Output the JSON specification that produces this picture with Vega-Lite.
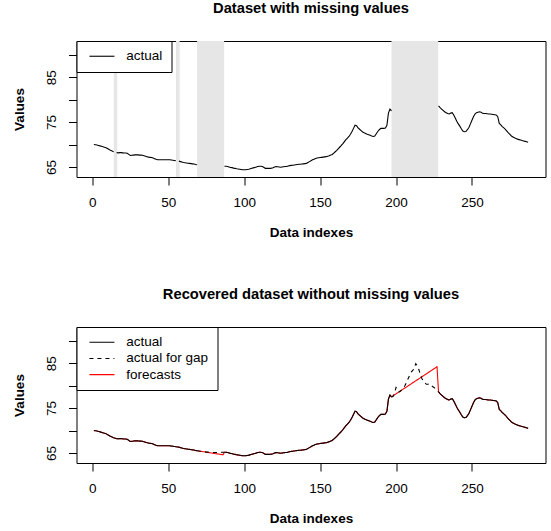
{
"$schema": "https://vega.github.io/schema/vega-lite/v6.json",
"autosize": {"type": "pad"},
"padding": {"left": 11.5, "top": 0, "right": 0, "bottom": 0},
"background": "white",
"config": {
 "font": "Liberation Sans",
 "view": {"stroke": "black", "strokeWidth": 1},
 "axis": {"domain": false, "grid": false, "ticks": true, "tickColor": "black", "tickWidth": 1, "tickSize": 8, "labelFont": "Liberation Sans", "labelFontSize": 13.5, "labelColor": "black", "titleFont": "Liberation Sans", "titleFontSize": 13.5, "titleFontWeight": "bold", "titleColor": "black", "labelFlush": false, "labelOverlap": false},
 "axisX": {"labelPadding": 10, "titlePadding": 17, "labelAngle": 0},
 "axisY": {"labelAngle": -90, "labelPadding": 10, "titlePadding": 18},
 "title": {"fontSize": 14.7, "fontWeight": "bold", "color": "black", "anchor": "middle", "font": "Liberation Sans"},
 "legend": {"orient": "top-left", "offset": 0, "padding": 8.5, "strokeColor": "black", "fillColor": "white", "symbolType": "M-3.125,0H3.125", "symbolSize": 64, "symbolStrokeWidth": 1.1, "symbolOffset": 10.2, "labelOffset": 17.5, "labelFontSize": 13.5, "labelColor": "black", "labelFont": "Liberation Sans", "rowPadding": 1.2, "cornerRadius": 0}
},
"datasets": {
 "bands": [{"b0":14.1,"b1":16.4},{"b0":55.1,"b1":57.5},{"b0":69,"b1":86.8},{"b0":197,"b1":227.8}],
 "main": [
{"i":1,"a":70,"f":70},{"i":2,"a":69.95,"f":69.95},{"i":3,"a":69.9,"f":69.9},{"i":4,"a":69.8,"f":69.8},{"i":5,"a":69.7,"f":69.7},
{"i":6,"a":69.6,"f":69.6},{"i":7,"a":69.5,"f":69.5},{"i":8,"a":69.4,"f":69.4},{"i":9,"a":69.3,"f":69.3},{"i":10,"a":69.1,"f":69.1},
{"i":11,"a":68.9,"f":68.9},{"i":12,"a":68.7,"f":68.7},{"i":13,"a":68.55,"f":68.55},{"i":14,"a":68.4,"f":68.4,"g":68.4},{"i":15,"a":null,"f":68.3,"g":68.3},
{"i":16,"a":68.2,"f":68.2,"g":68.2},{"i":17,"a":68.15,"f":68.15},{"i":18,"a":68.2,"f":68.2},{"i":19,"a":68.2,"f":68.2},{"i":20,"a":68.15,"f":68.15},
{"i":21,"a":68.1,"f":68.1},{"i":22,"a":68.1,"f":68.1},{"i":23,"a":68.05,"f":68.05},{"i":24,"a":67.8,"f":67.8},{"i":25,"a":67.55,"f":67.55},
{"i":26,"a":67.6,"f":67.6},{"i":27,"a":67.65,"f":67.65},{"i":28,"a":67.7,"f":67.7},{"i":29,"a":67.7,"f":67.7},{"i":30,"a":67.7,"f":67.7},
{"i":31,"a":67.65,"f":67.65},{"i":32,"a":67.65,"f":67.65},{"i":33,"a":67.6,"f":67.6},{"i":34,"a":67.5,"f":67.5},{"i":35,"a":67.4,"f":67.4},
{"i":36,"a":67.3,"f":67.3},{"i":37,"a":67.2,"f":67.2},{"i":38,"a":67.15,"f":67.15},{"i":39,"a":67.1,"f":67.1},{"i":40,"a":67,"f":67},
{"i":41,"a":66.85,"f":66.85},{"i":42,"a":66.7,"f":66.7},{"i":43,"a":66.6,"f":66.6},{"i":44,"a":66.6,"f":66.6},{"i":45,"a":66.6,"f":66.6},
{"i":46,"a":66.6,"f":66.6},{"i":47,"a":66.6,"f":66.6},{"i":48,"a":66.6,"f":66.6},{"i":49,"a":66.6,"f":66.6},{"i":50,"a":66.6,"f":66.6},
{"i":51,"a":66.6,"f":66.6},{"i":52,"a":66.55,"f":66.55},{"i":53,"a":66.5,"f":66.5},{"i":54,"a":66.45,"f":66.45},{"i":55,"a":66.4,"f":66.4,"g":66.4},
{"i":56,"a":null,"f":66.35,"g":66.35},{"i":57,"a":66.3,"f":66.3,"g":66.3},{"i":58,"a":66.2,"f":66.2},{"i":59,"a":66.1,"f":66.1},{"i":60,"a":66,"f":66},
{"i":61,"a":65.95,"f":65.95},{"i":62,"a":65.9,"f":65.9},{"i":63,"a":65.85,"f":65.85},{"i":64,"a":65.8,"f":65.8},{"i":65,"a":65.75,"f":65.75},
{"i":66,"a":65.7,"f":65.7},{"i":67,"a":65.65,"f":65.65},{"i":68,"a":65.55,"f":65.55},{"i":69,"a":65.5,"f":65.5,"g":65.5},{"i":70,"a":null,"f":65.45,"g":65.45},
{"i":71,"a":null,"f":65.39,"g":65.4},{"i":72,"a":null,"f":65.34,"g":65.35},{"i":73,"a":null,"f":65.29,"g":65.3},{"i":74,"a":null,"f":65.24,"g":65.25},{"i":75,"a":null,"f":65.18,"g":65.2},
{"i":76,"a":null,"f":65.13,"g":65.2},{"i":77,"a":null,"f":65.08,"g":65.15},{"i":78,"a":null,"f":65.02,"g":65.15},{"i":79,"a":null,"f":64.97,"g":65.1},{"i":80,"a":null,"f":64.92,"g":65.1},
{"i":81,"a":null,"f":64.86,"g":65.1},{"i":82,"a":null,"f":64.81,"g":65.1},{"i":83,"a":null,"f":64.76,"g":65.1},{"i":84,"a":null,"f":64.71,"g":65.15},{"i":85,"a":null,"f":64.65,"g":65.15},
{"i":86,"a":null,"f":64.6,"g":65.15},{"i":87,"a":65.15,"f":65.15,"g":65.15},{"i":88,"a":65.15,"f":65.15},{"i":89,"a":65.1,"f":65.1},{"i":90,"a":65,"f":65},
{"i":91,"a":64.9,"f":64.9},{"i":92,"a":64.85,"f":64.85},{"i":93,"a":64.75,"f":64.75},{"i":94,"a":64.7,"f":64.7},{"i":95,"a":64.6,"f":64.6},
{"i":96,"a":64.55,"f":64.55},{"i":97,"a":64.5,"f":64.5},{"i":98,"a":64.45,"f":64.45},{"i":99,"a":64.4,"f":64.4},{"i":100,"a":64.4,"f":64.4},
{"i":101,"a":64.4,"f":64.4},{"i":102,"a":64.45,"f":64.45},{"i":103,"a":64.5,"f":64.5},{"i":104,"a":64.6,"f":64.6},{"i":105,"a":64.7,"f":64.7},
{"i":106,"a":64.8,"f":64.8},{"i":107,"a":64.9,"f":64.9},{"i":108,"a":65,"f":65},{"i":109,"a":65.1,"f":65.1},{"i":110,"a":65.15,"f":65.15},
{"i":111,"a":65.15,"f":65.15},{"i":112,"a":65.1,"f":65.1},{"i":113,"a":64.9,"f":64.9},{"i":114,"a":64.7,"f":64.7},{"i":115,"a":64.7,"f":64.7},
{"i":116,"a":64.7,"f":64.7},{"i":117,"a":64.7,"f":64.7},{"i":118,"a":64.75,"f":64.75},{"i":119,"a":64.85,"f":64.85},{"i":120,"a":65,"f":65},
{"i":121,"a":65.1,"f":65.1},{"i":122,"a":65.05,"f":65.05},{"i":123,"a":65,"f":65},{"i":124,"a":64.95,"f":64.95},{"i":125,"a":65,"f":65},
{"i":126,"a":65.05,"f":65.05},{"i":127,"a":65.1,"f":65.1},{"i":128,"a":65.1,"f":65.1},{"i":129,"a":65.2,"f":65.2},{"i":130,"a":65.3,"f":65.3},
{"i":131,"a":65.35,"f":65.35},{"i":132,"a":65.4,"f":65.4},{"i":133,"a":65.45,"f":65.45},{"i":134,"a":65.5,"f":65.5},{"i":135,"a":65.55,"f":65.55},
{"i":136,"a":65.6,"f":65.6},{"i":137,"a":65.6,"f":65.6},{"i":138,"a":65.65,"f":65.65},{"i":139,"a":65.7,"f":65.7},{"i":140,"a":65.75,"f":65.75},
{"i":141,"a":65.8,"f":65.8},{"i":142,"a":66,"f":66},{"i":143,"a":66.2,"f":66.2},{"i":144,"a":66.4,"f":66.4},{"i":145,"a":66.6,"f":66.6},
{"i":146,"a":66.75,"f":66.75},{"i":147,"a":66.9,"f":66.9},{"i":148,"a":67,"f":67},{"i":149,"a":67.05,"f":67.05},{"i":150,"a":67.1,"f":67.1},
{"i":151,"a":67.15,"f":67.15},{"i":152,"a":67.2,"f":67.2},{"i":153,"a":67.25,"f":67.25},{"i":154,"a":67.3,"f":67.3},{"i":155,"a":67.4,"f":67.4},
{"i":156,"a":67.5,"f":67.5},{"i":157,"a":67.65,"f":67.65},{"i":158,"a":67.8,"f":67.8},{"i":159,"a":68.1,"f":68.1},{"i":160,"a":68.4,"f":68.4},
{"i":161,"a":68.7,"f":68.7},{"i":162,"a":69.1,"f":69.1},{"i":163,"a":69.45,"f":69.45},{"i":164,"a":69.8,"f":69.8},{"i":165,"a":70.2,"f":70.2},
{"i":166,"a":70.65,"f":70.65},{"i":167,"a":71.1,"f":71.1},{"i":168,"a":71.45,"f":71.45},{"i":169,"a":71.8,"f":71.8},{"i":170,"a":72.3,"f":72.3},
{"i":171,"a":72.9,"f":72.9},{"i":172,"a":73.6,"f":73.6},{"i":173,"a":74.3,"f":74.3},{"i":174,"a":74.2,"f":74.2},{"i":175,"a":73.7,"f":73.7},
{"i":176,"a":73.4,"f":73.4},{"i":177,"a":73.1,"f":73.1},{"i":178,"a":72.8,"f":72.8},{"i":179,"a":72.6,"f":72.6},{"i":180,"a":72.45,"f":72.45},
{"i":181,"a":72.3,"f":72.3},{"i":182,"a":72.2,"f":72.2},{"i":183,"a":72.05,"f":72.05},{"i":184,"a":71.9,"f":71.9},{"i":185,"a":71.8,"f":71.8},
{"i":186,"a":71.9,"f":71.9},{"i":187,"a":72.4,"f":72.4},{"i":188,"a":72.9,"f":72.9},{"i":189,"a":73.3,"f":73.3},{"i":190,"a":73.6,"f":73.6},
{"i":191,"a":73.6,"f":73.6},{"i":192,"a":73.6,"f":73.6},{"i":193,"a":73.7,"f":73.7},{"i":194,"a":74.3,"f":74.3},{"i":195,"a":77,"f":77},
{"i":196,"a":77.9,"f":77.9},{"i":197,"a":77.5,"f":77.5,"g":77.5},{"i":198,"a":null,"f":77.72,"g":77.6},{"i":199,"a":null,"f":77.95,"g":78.2},{"i":200,"a":null,"f":78.17,"g":79.6},
{"i":201,"a":null,"f":78.39,"g":79.2},{"i":202,"a":null,"f":78.62,"g":78.6},{"i":203,"a":null,"f":78.84,"g":78.8},{"i":204,"a":null,"f":79.06,"g":79.2},{"i":205,"a":null,"f":79.29,"g":79.5},
{"i":206,"a":null,"f":79.51,"g":80.1},{"i":207,"a":null,"f":79.73,"g":80.8},{"i":208,"a":null,"f":79.96,"g":81.6},{"i":209,"a":null,"f":80.18,"g":82.3},{"i":210,"a":null,"f":80.4,"g":83},
{"i":211,"a":null,"f":80.63,"g":83.4},{"i":212,"a":null,"f":80.85,"g":83.8},{"i":213,"a":null,"f":81.07,"g":84.9},{"i":214,"a":null,"f":81.3,"g":84.4},{"i":215,"a":null,"f":81.52,"g":83.6},
{"i":216,"a":null,"f":81.74,"g":82.6},{"i":217,"a":null,"f":81.97,"g":81.6},{"i":218,"a":null,"f":82.19,"g":81},{"i":219,"a":null,"f":82.41,"g":80.6},{"i":220,"a":null,"f":82.64,"g":80.3},
{"i":221,"a":null,"f":82.86,"g":80.3},{"i":222,"a":null,"f":83.08,"g":80.4},{"i":223,"a":null,"f":83.31,"g":80.1},{"i":224,"a":null,"f":83.53,"g":79.8},{"i":225,"a":null,"f":83.75,"g":79.6},
{"i":226,"a":null,"f":83.98,"g":79.3},{"i":227,"a":null,"f":84.2,"g":79},{"i":228,"a":78.6,"f":78.6,"g":78.6},{"i":229,"a":78.2,"f":78.2},{"i":230,"a":77.9,"f":77.9},
{"i":231,"a":77.6,"f":77.6},{"i":232,"a":77.3,"f":77.3},{"i":233,"a":77.1,"f":77.1},{"i":234,"a":76.9,"f":76.9},{"i":235,"a":76.8,"f":76.8},
{"i":236,"a":77,"f":77},{"i":237,"a":77.1,"f":77.1},{"i":238,"a":76.6,"f":76.6},{"i":239,"a":75.9,"f":75.9},{"i":240,"a":75.2,"f":75.2},
{"i":241,"a":74.6,"f":74.6},{"i":242,"a":74.1,"f":74.1},{"i":243,"a":73.5,"f":73.5},{"i":244,"a":73,"f":73},{"i":245,"a":72.85,"f":72.85},
{"i":246,"a":72.9,"f":72.9},{"i":247,"a":73.3,"f":73.3},{"i":248,"a":73.8,"f":73.8},{"i":249,"a":74.6,"f":74.6},{"i":250,"a":75.4,"f":75.4},
{"i":251,"a":76.2,"f":76.2},{"i":252,"a":76.8,"f":76.8},{"i":253,"a":77.1,"f":77.1},{"i":254,"a":77.2,"f":77.2},{"i":255,"a":77.3,"f":77.3},
{"i":256,"a":77.2,"f":77.2},{"i":257,"a":76.95,"f":76.95},{"i":258,"a":76.9,"f":76.9},{"i":259,"a":76.9,"f":76.9},{"i":260,"a":76.85,"f":76.85},
{"i":261,"a":76.8,"f":76.8},{"i":262,"a":76.8,"f":76.8},{"i":263,"a":76.75,"f":76.75},{"i":264,"a":76.7,"f":76.7},{"i":265,"a":76.65,"f":76.65},
{"i":266,"a":76.6,"f":76.6},{"i":267,"a":76.2,"f":76.2},{"i":268,"a":74.7,"f":74.7},{"i":269,"a":74.4,"f":74.4},{"i":270,"a":74,"f":74},
{"i":271,"a":73.7,"f":73.7},{"i":272,"a":73.4,"f":73.4},{"i":273,"a":73,"f":73},{"i":274,"a":72.6,"f":72.6},{"i":275,"a":72.25,"f":72.25},
{"i":276,"a":71.9,"f":71.9},{"i":277,"a":71.7,"f":71.7},{"i":278,"a":71.5,"f":71.5},{"i":279,"a":71.35,"f":71.35},{"i":280,"a":71.2,"f":71.2},
{"i":281,"a":71.1,"f":71.1},{"i":282,"a":71,"f":71},{"i":283,"a":70.9,"f":70.9},{"i":284,"a":70.8,"f":70.8},{"i":285,"a":70.7,"f":70.7},
{"i":286,"a":70.6,"f":70.6},{"i":287,"a":70.5,"f":70.5}
 ]
},
"spacing": 150,
"bounds": "flush",
"resolve": {"scale": {"color": "independent", "strokeDash": "independent"}, "legend": {"color": "independent", "strokeDash": "independent"}},
"vconcat": [
 {
  "title": {"text": "Dataset with missing values", "offset": 25},
  "width": 469, "height": 136,
  "layer": [
   {
    "data": {"name": "bands"},
    "mark": {"type": "rect", "color": "#e6e6e6"},
    "encoding": {
     "x": {"field": "b0", "type": "quantitative", "scale": {"domain": [-10.44, 298.44], "nice": false, "zero": false}, "title": "Data indexes", "axis": {"values": [0, 50, 100, 150, 200, 250]}},
     "x2": {"field": "b1"}
    }
   },
   {
    "data": {"name": "main"},
    "mark": {"type": "line", "strokeWidth": 1.1, "invalid": "break-paths-filter-domains"},
    "encoding": {
     "x": {"field": "i", "type": "quantitative", "scale": {"domain": [-10.44, 298.44], "nice": false, "zero": false}, "title": "Data indexes", "axis": {"values": [0, 50, 100, 150, 200, 250]}},
     "y": {"field": "a", "type": "quantitative", "scale": {"domain": [62.77, 93.06], "nice": false, "zero": false}, "title": "Values", "axis": {"values": [65, 70, 75, 80, 85, 90], "labelExpr": "datum.value % 10 == 5 ? datum.label : ''"}},
     "color": {"datum": "actual", "scale": {"domain": ["actual"], "range": ["black"]}, "legend": {"title": null}}
    }
   }
  ]
 },
 {
  "title": {"text": "Recovered dataset without missing values", "offset": 25},
  "width": 469, "height": 136,
  "data": {"name": "main"},
  "transform": [{"fold": ["f", "a", "g"], "as": ["s", "v"]}],
  "mark": {"type": "line", "strokeWidth": 1.1, "invalid": "break-paths-filter-domains"},
  "encoding": {
   "x": {"field": "i", "type": "quantitative", "scale": {"domain": [-10.44, 298.44], "nice": false, "zero": false}, "title": "Data indexes", "axis": {"values": [0, 50, 100, 150, 200, 250]}},
   "y": {"field": "v", "type": "quantitative", "scale": {"domain": [62.77, 93.06], "nice": false, "zero": false}, "title": "Values", "axis": {"values": [65, 70, 75, 80, 85, 90], "labelExpr": "datum.value % 10 == 5 ? datum.label : ''"}},
   "color": {"field": "s", "type": "nominal", "scale": {"domain": ["a", "g", "f"], "range": ["black", "black", "red"]}, "legend": {"title": null, "labelExpr": "datum.value == 'a' ? 'actual' : datum.value == 'g' ? 'actual for gap' : 'forecasts'"}},
   "strokeDash": {"field": "s", "type": "nominal", "scale": {"domain": ["a", "g", "f"], "range": [[1, 0], [4, 4], [1, 0]]}, "legend": {"title": null, "labelExpr": "datum.value == 'a' ? 'actual' : datum.value == 'g' ? 'actual for gap' : 'forecasts'"}}
  }
 }
]
}
